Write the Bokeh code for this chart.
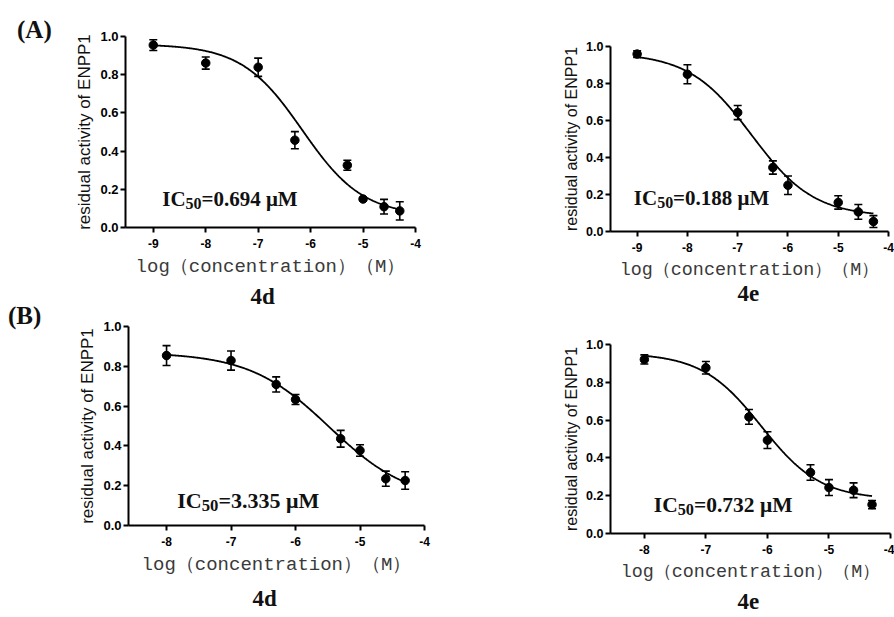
import numpy as np
from bokeh.plotting import figure
from bokeh.models import Range1d, FixedTicker, Whisker, TeeHead, ColumnDataSource, Label, Title, Div
from bokeh.layouts import row, column
from bokeh.embed import file_html
from bokeh.resources import INLINE

# ---------------- data ----------------
# (A) 4d
a4d_x = [-9, -8, -7, -6.3, -5.3, -5, -4.6, -4.3]
a4d_y = [0.955, 0.861, 0.839, 0.457, 0.326, 0.149, 0.109, 0.087]
a4d_err = [0.028, 0.032, 0.048, 0.045, 0.026, 0.008, 0.038, 0.048]
a4d_fit = [0.96, 0.06, np.log10(0.694e-6), 0.75]   # top, bottom, logIC50, hill
a4d_ic50 = "=0.694 μM"

# (A) 4e
a4e_x = [-9, -8, -7, -6.3, -6, -5, -4.6, -4.3]
a4e_y = [0.959, 0.850, 0.643, 0.346, 0.250, 0.157, 0.106, 0.054]
a4e_err = [0.018, 0.051, 0.038, 0.036, 0.050, 0.036, 0.040, 0.032]
a4e_fit = [0.965, 0.08, np.log10(0.188e-6), 0.7]
a4e_ic50 = "=0.188 μM"

# (B) 4d
b4d_x = [-8, -7, -6.3, -6, -5.3, -5, -4.6, -4.3]
b4d_y = [0.854, 0.829, 0.709, 0.633, 0.436, 0.377, 0.235, 0.226]
b4d_err = [0.050, 0.048, 0.038, 0.025, 0.042, 0.029, 0.038, 0.044]
b4d_fit = [0.87, 0.12, np.log10(3.335e-6), 0.7]
b4d_ic50 = "=3.335 μM"

# (B) 4e
b4e_x = [-8, -7, -6.3, -6, -5.3, -5, -4.6, -4.3]
b4e_y = [0.921, 0.877, 0.617, 0.494, 0.323, 0.243, 0.229, 0.153]
b4e_err = [0.024, 0.033, 0.039, 0.044, 0.041, 0.042, 0.039, 0.022]
b4e_fit = [0.955, 0.18, -6.1, 0.9]
b4e_ic50 = "=0.732 μM"

xticks_a = [-9, -8, -7, -6, -5, -4]
xtick_labels_a = ["-9", "-8", "-7", "-6", "-5", "-4"]
xticks_b = [-8, -7, -6, -5, -4]
xtick_labels_b = ["-8", "-7", "-6", "-5", "-4"]
yticks = [0.0, 0.2, 0.4, 0.6, 0.8, 1.0]
ytick_labels = ["0.0", "0.2", "0.4", "0.6", "0.8", "1.0"]

x_title = "log（concentration）（M）"
y_title = "residual activity of ENPP1"
section_tags = ["(A)", "(B)"]

SERIF = "Liberation Serif"
SANS = "Liberation Sans"
MONO = "Liberation Mono"


def panel(x, y, err, fit, ic_text, ic_pos, ic_fs, xr, xticks, xlabels,
          size, borders, fonts, name, name_left, name_standoff):
    W, H = size
    L, R, T, B = borders
    p = figure(width=W, height=H, x_range=Range1d(*xr), y_range=Range1d(0, 1.0),
               output_backend="svg", toolbar_location=None,
               min_border_left=L, min_border_right=R, min_border_top=T, min_border_bottom=B,
               background_fill_color="white", border_fill_color="white")
    p.frame_align = False
    p.outline_line_color = None
    p.xgrid.visible = False
    p.ygrid.visible = False
    ytick_fs, xtick_fs, ylab_fs, xlab_fs = fonts

    for ax in (p.xaxis[0], p.yaxis[0]):
        ax.axis_line_width = 2
        ax.axis_line_color = "black"
        ax.major_tick_line_width = 2
        ax.major_tick_line_color = "black"
        ax.major_tick_out = 5
        ax.major_tick_in = 0
        ax.minor_tick_line_color = None
        ax.major_label_text_font = SANS
        ax.major_label_text_font_style = "bold"
        ax.major_label_text_color = "black"
        ax.axis_label_text_font_style = "normal"

    xa = p.xaxis[0]
    xa.ticker = FixedTicker(ticks=xticks)
    xa.major_label_overrides = {t: s for t, s in zip(xticks, xlabels)}
    xa.major_label_text_font_size = f"{xtick_fs}px"
    xa.major_label_standoff = 6
    xa.axis_label = x_title
    xa.axis_label_text_font = MONO
    xa.axis_label_text_font_size = f"{xlab_fs}px"
    xa.axis_label_text_color = "#3a3a3a"
    xa.axis_label_standoff = 5

    ya = p.yaxis[0]
    ya.ticker = FixedTicker(ticks=yticks)
    ya.major_label_overrides = {t: s for t, s in zip(yticks, ytick_labels)}
    ya.major_label_text_font_size = f"{ytick_fs}px"
    ya.major_label_standoff = 2
    ya.axis_label = y_title
    ya.axis_label_text_font = SANS
    ya.axis_label_text_font_size = f"{ylab_fs}px"
    ya.axis_label_text_color = "#111111"
    ya.axis_label_standoff = 3

    top, bottom, logic50, hill = fit
    xs = np.linspace(x[0], x[-1], 300)
    ys = bottom + (top - bottom) / (1.0 + 10 ** ((xs - logic50) * hill))
    p.line(xs, ys, line_color="black", line_width=1.8)

    src = ColumnDataSource(dict(x=x, y=y,
                                lo=[a - b for a, b in zip(y, err)],
                                hi=[a + b for a, b in zip(y, err)]))
    p.add_layout(Whisker(base="x", lower="lo", upper="hi", source=src, dimension="height",
                         line_color="black", line_width=1.6,
                         lower_head=TeeHead(size=8, line_width=1.6, line_color="black"),
                         upper_head=TeeHead(size=8, line_width=1.6, line_color="black")))
    p.scatter("x", "y", source=src, size=8.5, color="black")

    # IC50 text with subscript
    sub_fs = ic_fs * 0.76
    w_ic = (389 + 722) / 1000 * ic_fs
    w_sub = 1.0 * sub_fs
    lift = 8
    common = dict(x=ic_pos[0], y=ic_pos[1], text_font=SERIF, text_font_style="bold",
                  text_color="#111111", text_baseline="alphabetic", text_align="left")
    p.add_layout(Label(text="IC", text_font_size=f"{ic_fs}px", y_offset=lift, **common))
    p.add_layout(Label(text="50", text_font_size=f"{sub_fs:.1f}px", x_offset=w_ic,
                       y_offset=lift - 5, **common))
    p.add_layout(Label(text=ic_text, text_font_size=f"{ic_fs}px",
                       x_offset=w_ic + w_sub, y_offset=lift, **common))

    # compound name under the panel
    p.add_layout(Title(text=name, align="left", offset=name_left, standoff=name_standoff,
                       text_font=SERIF, text_font_style="bold", text_font_size="23px",
                       text_line_height=0.9, text_color="#111111"), "below")
    return p


left_fonts = (13, 12, 17, 19)
right_fonts = (12.5, 12, 16, 18.4)
TAGW = 60

p1 = panel(a4d_x, a4d_y, a4d_err, a4d_fit, a4d_ic50, (-8.83, 0.109), 21,
           (-9.53, -4), xticks_a, xtick_labels_a, (447 - TAGW, 309), (125 - TAGW, 32, 36, 81),
           left_fonts, "4d", 125, 2)
p2 = panel(a4e_x, a4e_y, a4e_err, a4e_fit, a4e_ic50, (-9.066, 0.139), 21,
           (-9.53, -4), xticks_a, xtick_labels_a, (447, 309), (163, 6, 46, 78),
           right_fonts, "4e", 127, 0)
p3 = panel(b4d_x, b4d_y, b4d_err, b4d_fit, b4d_ic50, (-7.834, 0.084), 22,
           (-8.59, -4), xticks_b, xtick_labels_b, (447 - TAGW, 308), (128 - TAGW, 23, 17, 92),
           left_fonts, "4d", 124, 10)
p4 = panel(b4e_x, b4e_y, b4e_err, b4e_fit, b4e_ic50, (-7.847, 0.111), 21.5,
           (-8.55, -4), xticks_b, xtick_labels_b, (447, 308), (163, 4, 35, 84),
           right_fonts, "4e", 127, 12)

tag_style = "margin:0;font-family:'Liberation Serif';font-weight:bold;font-size:25px;line-height:25px;color:#111111;"
tags = Div(text=(f'<div style="{tag_style}padding:17px 0 0 17px;">{section_tags[0]}</div>'
                 f'<div style="{tag_style}padding:261px 0 0 8px;">{section_tags[1]}</div>'),
           width=TAGW, height=617, margin=(0, 0, 0, 0))

layout = row(tags, column(row(p1, p2), row(p3, p4)))

open("out.html", "w").write(file_html(layout, INLINE))
